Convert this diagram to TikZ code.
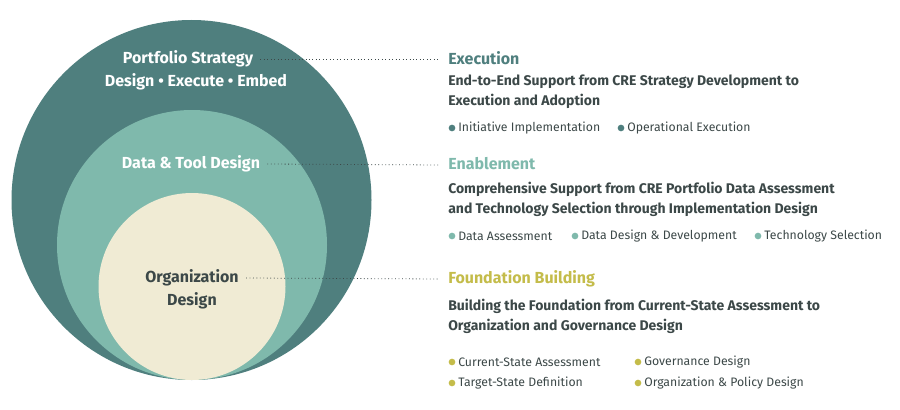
\documentclass[tikz,border=0pt]{standalone}
\usepackage{fontspec}
\setmainfont{Fira Sans}
\definecolor{dteal}{HTML}{4F7F7E}
\definecolor{mteal}{HTML}{7FB9AC}
\definecolor{cream}{HTML}{F0EBD4}
\definecolor{olive}{HTML}{C4BC4A}
\definecolor{txt}{HTML}{3C4848}
\begin{document}
\begin{tikzpicture}[x=0.75pt,y=-0.75pt,
  circ/.style={font=\fontsize{12}{15}\selectfont\bfseries},
  head/.style={anchor=west,font=\fontsize{12}{14}\selectfont\bfseries},
  sub/.style={anchor=west,align=left,text=txt,font=\fontsize{10.5}{15}\selectfont\bfseries,inner sep=0pt},
  bul/.style={anchor=west,text=txt,font=\fontsize{9.2}{11}\selectfont,inner sep=0pt},
  dot/.style={circle,inner sep=0pt,minimum size=5pt},
  lead/.style={dotted,line width=0.6pt,txt}]
\useasboundingbox (0,0) rectangle (900,410);
\fill[white] (0,0) rectangle (900,410);
\fill[dteal] (191.5,200) circle[radius=180];
\fill[mteal] (192,245) circle[radius=135];
\fill[cream] (192,286.5) circle[radius=93.5];
\node[circ,white,align=center] (p1) at (188,59) {Portfolio Strategy};
\node[circ,white] (p2) at (196,82) {Design • Execute • Embed};
\node[circ,white] (dt) at (191,164) {Data \& Tool Design};
\node[circ,txt] (o1) at (192,278) {Organization};
\node[circ,txt] (o2) at (192,301) {Design};
\node[head,text=dteal,inner sep=0pt] (h1) at (448,58) {Execution};
\node[head,text=mteal,inner sep=0pt] (h2) at (448,164) {Enablement};
\node[head,text=olive,inner sep=0pt] (h3) at (448,279) {Foundation Building};
\coordinate (e1) at (438,59);
\coordinate (e2) at (440,165);
\coordinate (e3) at (440,279);
\draw[lead] (p1.east) ++(2pt,0) -- (e1);
\draw[lead] (dt.east) ++(2pt,0) -- (e2);
\draw[lead] (o1.east) ++(2pt,0) -- (e3);
\node[sub] (s1) at (448,92) {End-to-End Support from CRE Strategy Development to\\Execution and Adoption};
\node[sub] (s2) at (448,199) {Comprehensive Support from CRE Portfolio Data Assessment\\and Technology Selection through Implementation Design};
\node[sub] (s3) at (448,316) {Building the Foundation from Current-State Assessment to\\Organization and Governance Design};
% bullets
\node[dot,fill=dteal] (d11) at (452,128) {}; \node[bul] (b11) at (458,128) {Initiative Implementation};
\node[dot,fill=dteal] (d12) at (621,128) {}; \node[bul] (b12) at (627,128) {Operational Execution};
\node[dot,fill=mteal] (d21) at (452,236) {}; \node[bul] (b21) at (458,236) {Data Assessment};
\node[dot,fill=mteal] (d22) at (575,236) {}; \node[bul] (b22) at (581,236) {Data Design \& Development};
\node[dot,fill=mteal] (d23) at (758,236) {}; \node[bul] (b23) at (764,236) {Technology Selection};
\node[dot,fill=olive] (d31) at (452,362) {}; \node[bul] (b31) at (458,362) {Current-State Assessment};
\node[dot,fill=olive] (d32) at (638,362) {}; \node[bul] (b32) at (644,362) {Governance Design};
\node[dot,fill=olive] (d33) at (452,383) {}; \node[bul] (b33) at (458,383) {Target-State Definition};
\node[dot,fill=olive] (d34) at (638,383) {}; \node[bul] (b34) at (644,383) {Organization \& Policy Design};
\end{tikzpicture}
\end{document}
